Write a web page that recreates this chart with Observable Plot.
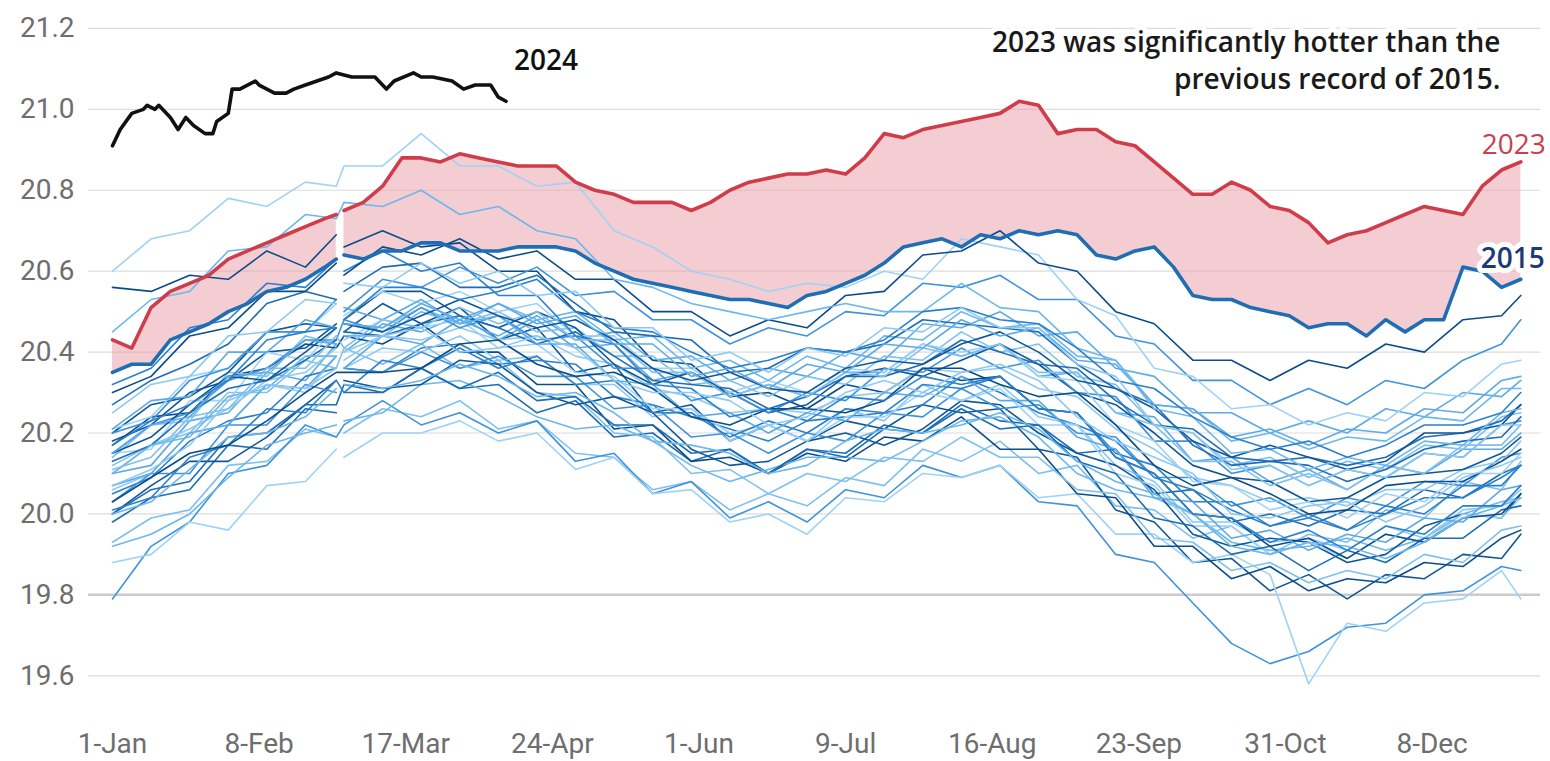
<!DOCTYPE html>
<html><head><meta charset="utf-8">
<script src="https://cdn.jsdelivr.net/npm/d3@7"></script>
<script src="https://cdn.jsdelivr.net/npm/@observablehq/plot@0.6"></script>
<style>
body{margin:0;background:#fff;}
#chart svg{display:block;}
</style></head><body><div id="chart"></div>
<script>
// ---- tick labels ----
const yTicks = [19.6, 19.8, 20.0, 20.2, 20.4, 20.6, 20.8, 21.0, 21.2];
const xTickDays = [1, 39, 77, 115, 153, 191, 229, 267, 305, 343];
const xTickLabels = ["1-Jan", "8-Feb", "17-Mar", "24-Apr", "1-Jun", "9-Jul", "16-Aug", "23-Sep", "31-Oct", "8-Dec"];

// ---- background years (day of year, leap-year calendar) ----
const bgDays = [1,11,21,31,41,51,59,61,71,81,91,101,111,121,131,141,151,161,171,181,191,201,211,221,231,241,251,261,271,281,291,301,311,321,331,341,351,361,366];
const bgYears = [1982,1983,1984,1985,1986,1987,1988,1989,1990,1991,1992,1993,1994,1995,1996,1997,1998,1999,2000,2001,2002,2003,2004,2005,2006,2007,2008,2009,2010,2011,2012,2013,2014,2016,2017,2018,2019,2020,2021,2022];
const bgValues = [
[19.93,19.99,20.01,20.12,20.13,20.21,20.19,20.20,20.26,20.24,20.28,20.21,20.23,20.15,20.14,20.06,20.08,20.01,20.05,20.02,20.09,20.07,20.16,20.13,20.18,20.10,20.12,20.02,20.01,19.94,19.97,19.90,19.95,19.93,20.01,19.99,20.08,20.06,20.13],
[20.18,20.22,20.30,20.33,20.40,20.41,20.47,20.45,20.52,20.47,20.51,20.43,20.46,20.35,20.37,20.25,20.27,20.18,20.22,20.18,20.23,20.21,20.27,20.25,20.26,20.16,20.14,20.01,19.98,19.88,19.89,19.81,19.85,19.79,19.85,19.84,19.90,19.89,19.95],
[19.79,19.92,19.98,20.10,20.12,20.22,20.19,20.22,20.28,20.22,20.25,20.20,20.23,20.13,20.15,20.05,20.08,19.99,20.03,19.98,20.06,20.04,20.12,20.09,20.12,20.03,20.02,19.90,19.88,19.78,19.68,19.63,19.66,19.72,19.73,19.80,19.81,19.87,19.86],
[19.88,19.90,19.98,19.96,20.07,20.08,20.16,20.14,20.20,20.20,20.23,20.18,20.20,20.11,20.14,20.05,20.06,19.98,20.00,19.95,20.04,20.03,20.10,20.09,20.12,20.04,20.05,19.95,19.95,19.88,19.90,19.85,19.58,19.73,19.71,19.78,19.79,19.86,19.79],
[19.98,20.04,20.06,20.17,20.16,20.26,20.25,20.30,20.30,20.36,20.31,20.32,20.25,20.28,20.19,20.20,20.13,20.16,20.10,20.16,20.15,20.22,20.20,20.27,20.23,20.22,20.15,20.16,20.05,20.06,19.98,20.00,19.97,20.01,20.00,20.06,20.04,20.10,20.12],
[20.10,20.12,20.23,20.25,20.35,20.33,20.42,20.40,20.47,20.45,20.49,20.43,20.48,20.41,20.42,20.33,20.35,20.29,20.32,20.29,20.35,20.35,20.42,20.39,20.42,20.34,20.35,20.25,20.24,20.13,20.14,20.08,20.11,20.06,20.12,20.10,20.16,20.16,20.20],
[20.17,20.24,20.25,20.34,20.36,20.42,20.41,20.44,20.42,20.47,20.40,20.40,20.32,20.32,20.21,20.22,20.13,20.14,20.10,20.15,20.13,20.19,20.18,20.24,20.16,20.16,20.05,20.04,19.92,19.92,19.84,19.87,19.81,19.84,19.83,19.88,19.87,19.94,19.96],
[19.92,19.95,20.00,20.09,20.17,20.20,20.22,20.23,20.25,20.32,20.33,20.29,20.24,20.21,20.22,20.18,20.12,20.08,20.11,20.14,20.14,20.13,20.18,20.23,20.24,20.19,20.10,20.06,20.04,20.00,19.93,19.91,19.92,19.94,19.91,19.94,20.00,20.03,20.04],
[20.05,20.09,20.18,20.23,20.25,20.34,20.36,20.36,20.35,20.41,20.42,20.37,20.38,20.37,20.29,20.27,20.24,20.21,20.18,20.23,20.24,20.25,20.27,20.34,20.30,20.25,20.22,20.18,20.09,20.06,20.01,19.97,19.99,19.96,20.00,20.04,20.04,20.09,20.12],
[20.06,20.10,20.20,20.22,20.32,20.30,20.39,20.36,20.41,20.40,20.44,20.38,20.39,20.32,20.32,20.24,20.26,20.18,20.22,20.18,20.26,20.23,20.32,20.28,20.32,20.24,20.22,20.12,20.08,19.98,19.98,19.93,19.94,19.91,19.97,19.94,20.01,20.02,20.06],
[20.12,20.17,20.20,20.30,20.30,20.38,20.36,20.41,20.37,20.42,20.36,20.38,20.30,20.29,20.20,20.19,20.10,20.11,20.05,20.10,20.08,20.14,20.13,20.19,20.14,20.14,20.06,20.05,19.94,19.93,19.86,19.88,19.83,19.86,19.84,19.90,19.88,19.96,19.97],
[20.00,20.07,20.13,20.13,20.19,20.27,20.33,20.33,20.31,20.32,20.38,20.37,20.30,20.27,20.29,20.25,20.16,20.12,20.13,20.18,20.20,20.17,20.21,20.28,20.27,20.20,20.15,20.12,20.06,19.95,19.92,19.94,19.93,19.88,19.90,19.97,20.00,19.99,20.05],
[20.03,20.10,20.10,20.22,20.22,20.32,20.30,20.36,20.35,20.40,20.36,20.39,20.34,20.34,20.26,20.27,20.19,20.20,20.15,20.20,20.18,20.25,20.24,20.31,20.26,20.27,20.20,20.19,20.09,20.09,20.02,20.04,19.99,20.04,20.02,20.08,20.07,20.14,20.15],
[20.15,20.16,20.28,20.28,20.40,20.38,20.46,20.43,20.48,20.46,20.48,20.41,20.42,20.35,20.34,20.26,20.26,20.20,20.22,20.18,20.24,20.24,20.30,20.28,20.31,20.22,20.22,20.10,20.07,19.97,19.97,19.90,19.93,19.89,19.95,19.93,20.00,19.99,20.04],
[20.00,20.06,20.08,20.19,20.20,20.27,20.27,20.32,20.30,20.36,20.31,20.35,20.28,20.29,20.22,20.22,20.15,20.16,20.10,20.16,20.14,20.21,20.20,20.26,20.21,20.22,20.13,20.10,19.99,19.97,19.90,19.92,19.86,19.91,19.88,19.94,19.94,20.01,20.02],
[20.07,20.10,20.20,20.22,20.32,20.31,20.39,20.36,20.44,20.42,20.48,20.44,20.49,20.43,20.45,20.38,20.39,20.33,20.36,20.34,20.40,20.38,20.47,20.46,20.50,20.44,20.45,20.36,20.34,20.25,20.25,20.20,20.23,20.20,20.26,20.24,20.30,20.29,20.33],
[20.56,20.55,20.59,20.58,20.65,20.61,20.69,20.66,20.70,20.66,20.67,20.60,20.60,20.50,20.48,20.38,20.37,20.29,20.30,20.26,20.32,20.30,20.36,20.33,20.34,20.26,20.25,20.14,20.10,20.00,19.99,19.92,19.94,19.89,19.95,19.93,19.99,20.00,20.05],
[20.00,20.03,20.11,20.19,20.20,20.24,20.31,20.32,20.31,20.33,20.37,20.34,20.29,20.30,20.25,20.18,20.17,20.15,20.10,20.12,20.18,20.21,20.20,20.22,20.25,20.21,20.13,20.08,20.05,20.00,19.92,19.90,19.93,19.92,19.89,19.93,19.99,20.02,20.04],
[20.01,20.04,20.14,20.17,20.26,20.25,20.33,20.30,20.38,20.36,20.41,20.36,20.39,20.32,20.33,20.25,20.25,20.19,20.23,20.20,20.26,20.25,20.32,20.31,20.34,20.26,20.25,20.15,20.12,20.03,20.03,19.97,20.00,19.96,20.02,20.00,20.07,20.07,20.12],
[20.10,20.17,20.21,20.26,20.33,20.35,20.41,20.40,20.44,20.43,20.46,20.43,20.44,20.39,20.37,20.31,20.29,20.25,20.26,20.25,20.29,20.30,20.36,20.35,20.36,20.31,20.29,20.21,20.16,20.09,20.07,20.03,20.04,20.02,20.06,20.06,20.11,20.13,20.18],
[20.14,20.22,20.23,20.35,20.34,20.44,20.42,20.47,20.46,20.51,20.47,20.50,20.45,20.46,20.39,20.39,20.32,20.33,20.29,20.34,20.32,20.39,20.38,20.45,20.40,20.42,20.34,20.32,20.22,20.20,20.12,20.14,20.09,20.13,20.11,20.17,20.16,20.24,20.25],
[20.20,20.27,20.29,20.35,20.45,20.47,20.46,20.48,20.55,20.55,20.49,20.46,20.50,20.46,20.37,20.32,20.35,20.30,20.25,20.27,20.34,20.36,20.34,20.38,20.42,20.37,20.30,20.27,20.20,20.12,20.09,20.08,20.03,20.04,20.09,20.10,20.11,20.15,20.19],
[20.15,20.22,20.25,20.33,20.36,20.43,20.43,20.48,20.45,20.51,20.46,20.49,20.43,20.44,20.36,20.36,20.28,20.30,20.25,20.30,20.28,20.36,20.35,20.41,20.36,20.38,20.30,20.29,20.18,20.18,20.10,20.12,20.07,20.11,20.09,20.15,20.14,20.22,20.23],
[20.21,20.24,20.34,20.36,20.45,20.45,20.52,20.49,20.55,20.52,20.55,20.50,20.52,20.44,20.44,20.36,20.36,20.30,20.33,20.30,20.36,20.35,20.42,20.40,20.42,20.34,20.33,20.22,20.18,20.08,20.07,20.01,20.03,19.99,20.05,20.03,20.10,20.10,20.15],
[20.13,20.17,20.25,20.31,20.33,20.38,20.43,20.45,20.44,20.47,20.49,20.46,20.42,20.45,20.39,20.33,20.32,20.31,20.26,20.29,20.34,20.34,20.37,20.43,20.40,20.37,20.36,20.28,20.22,20.21,20.14,20.13,20.14,20.12,20.14,20.19,20.20,20.23,20.27],
[20.21,20.28,20.29,20.40,20.40,20.48,20.46,20.51,20.48,20.53,20.47,20.49,20.42,20.42,20.33,20.32,20.24,20.25,20.20,20.25,20.23,20.30,20.29,20.34,20.28,20.28,20.19,20.16,20.04,20.03,19.94,19.96,19.91,19.95,19.93,19.99,19.98,20.06,20.07],
[20.03,20.09,20.15,20.17,20.23,20.30,20.35,20.35,20.35,20.36,20.42,20.43,20.37,20.34,20.35,20.31,20.24,20.22,20.26,20.26,20.25,20.28,20.36,20.36,20.32,20.29,20.30,20.22,20.12,20.07,20.09,20.05,20.00,20.01,20.07,20.08,20.08,20.13,20.16],
[20.10,20.17,20.19,20.29,20.31,20.39,20.39,20.44,20.44,20.50,20.47,20.52,20.48,20.50,20.43,20.44,20.36,20.38,20.33,20.39,20.36,20.44,20.43,20.50,20.46,20.47,20.39,20.38,20.27,20.26,20.18,20.20,20.16,20.19,20.18,20.24,20.23,20.31,20.31],
[20.32,20.36,20.46,20.48,20.57,20.56,20.63,20.60,20.65,20.60,20.62,20.54,20.54,20.44,20.42,20.32,20.31,20.24,20.26,20.23,20.29,20.28,20.34,20.32,20.34,20.26,20.25,20.14,20.10,20.00,19.99,19.93,19.96,19.91,19.97,19.95,20.02,20.02,20.07],
[20.07,20.11,20.17,20.28,20.32,20.31,20.36,20.38,20.44,20.46,20.40,20.41,20.44,20.41,20.33,20.30,20.30,20.28,20.22,20.24,20.30,20.33,20.30,20.35,20.37,20.33,20.24,20.18,20.14,20.10,20.00,19.99,20.02,20.03,19.98,20.02,20.09,20.12,20.14],
[20.11,20.14,20.24,20.26,20.36,20.36,20.44,20.41,20.48,20.46,20.51,20.47,20.50,20.43,20.43,20.35,20.35,20.29,20.32,20.29,20.35,20.34,20.41,20.39,20.42,20.35,20.35,20.25,20.22,20.13,20.13,20.07,20.10,20.06,20.12,20.10,20.17,20.17,20.22],
[20.15,20.19,20.27,20.34,20.33,20.40,20.46,20.47,20.45,20.49,20.53,20.49,20.46,20.48,20.43,20.36,20.33,20.35,20.31,20.30,20.36,20.38,20.37,20.42,20.45,20.40,20.33,20.31,20.26,20.18,20.14,20.17,20.14,20.11,20.13,20.20,20.20,20.22,20.27],
[20.20,20.23,20.33,20.36,20.45,20.45,20.53,20.50,20.58,20.56,20.61,20.57,20.61,20.54,20.55,20.48,20.48,20.42,20.46,20.44,20.50,20.49,20.57,20.56,20.59,20.53,20.53,20.44,20.42,20.33,20.33,20.27,20.31,20.27,20.33,20.31,20.38,20.42,20.48],
[20.60,20.68,20.70,20.78,20.76,20.82,20.81,20.86,20.86,20.94,20.86,20.86,20.81,20.82,20.70,20.66,20.60,20.58,20.55,20.57,20.56,20.60,20.58,20.68,20.66,20.64,20.53,20.49,20.36,20.34,20.26,20.27,20.22,20.25,20.23,20.30,20.29,20.37,20.38],
[20.27,20.33,20.37,20.42,20.52,20.55,20.53,20.55,20.61,20.62,20.56,20.56,20.59,20.52,20.45,20.44,20.43,20.35,20.36,20.41,20.40,20.42,20.48,20.47,20.46,20.45,20.37,20.31,20.27,20.17,20.12,20.13,20.12,20.08,20.11,20.16,20.18,20.19,20.24],
[20.15,20.22,20.24,20.34,20.35,20.43,20.42,20.47,20.46,20.52,20.48,20.52,20.47,20.49,20.42,20.42,20.34,20.36,20.31,20.37,20.35,20.42,20.41,20.48,20.44,20.46,20.38,20.37,20.27,20.26,20.19,20.21,20.17,20.21,20.20,20.26,20.25,20.33,20.34],
[20.30,20.34,20.44,20.46,20.55,20.55,20.62,20.59,20.66,20.64,20.68,20.63,20.65,20.58,20.58,20.50,20.50,20.44,20.48,20.46,20.54,20.55,20.64,20.65,20.70,20.62,20.60,20.50,20.47,20.38,20.38,20.33,20.38,20.36,20.42,20.40,20.48,20.49,20.54],
[20.45,20.53,20.55,20.65,20.66,20.74,20.73,20.77,20.76,20.80,20.74,20.76,20.70,20.68,20.58,20.56,20.52,20.50,20.48,20.50,20.52,20.50,20.50,20.57,20.51,20.50,20.41,20.38,20.26,20.24,20.15,20.16,20.11,20.14,20.12,20.18,20.17,20.25,20.26],
[20.17,20.23,20.27,20.33,20.43,20.45,20.46,20.48,20.56,20.56,20.53,20.55,20.58,20.50,20.46,20.45,20.40,20.36,20.38,20.41,20.40,20.43,20.50,20.51,20.48,20.47,20.41,20.33,20.31,20.24,20.19,20.16,20.18,20.14,20.17,20.22,20.22,20.25,20.30],
[20.25,20.32,20.34,20.44,20.45,20.53,20.52,20.57,20.56,20.62,20.57,20.60,20.54,20.55,20.46,20.46,20.38,20.40,20.35,20.41,20.39,20.46,20.45,20.51,20.46,20.46,20.37,20.34,20.22,20.20,20.11,20.12,20.07,20.11,20.09,20.15,20.14,20.22,20.22]
];

// ---- highlighted years ----
const hlDays = [1,6,11,16,21,26,31,36,41,46,51,56,59,61,66,71,76,81,86,91,96,101,106,111,116,121,126,131,136,141,146,151,156,161,166,171,176,181,186,191,196,201,206,211,216,221,226,231,236,241,246,251,256,261,266,271,276,281,286,291,296,301,306,311,316,321,326,331,336,341,346,351,356,361,366];
const temps2015 = [20.35,20.37,20.37,20.43,20.45,20.47,20.50,20.52,20.55,20.56,20.58,20.61,20.63,
  20.64,20.63,20.65,20.65,20.67,20.67,20.65,20.65,20.65,20.66,
  20.66,20.66,20.65,20.62,20.60,20.58,20.57,20.56,20.55,20.54,
  20.53,20.53,20.52,20.51,20.54,20.55,20.57,20.59,20.62,20.66,
  20.67,20.68,20.66,20.69,20.68,20.70,20.69,20.70,20.69,20.64,
  20.63,20.65,20.66,20.61,20.54,20.53,20.53,20.51,20.50,20.49,
  20.46,20.47,20.47,20.44,20.48,20.45,20.48,20.48,20.61,20.60,
  20.56,20.58];
const temps2023 = [20.43,20.41,20.51,20.55,20.57,20.59,20.63,20.65,20.67,20.69,20.71,20.73,20.74,
  20.75,20.77,20.81,20.88,20.88,20.87,20.89,20.88,20.87,20.86,
  20.86,20.86,20.82,20.80,20.79,20.77,20.77,20.77,20.75,20.77,
  20.80,20.82,20.83,20.84,20.84,20.85,20.84,20.88,20.94,20.93,
  20.95,20.96,20.97,20.98,20.99,21.02,21.01,20.94,20.95,20.95,
  20.92,20.91,20.87,20.83,20.79,20.79,20.82,20.80,20.76,20.75,
  20.72,20.67,20.69,20.70,20.72,20.74,20.76,20.75,20.74,20.81,
  20.85,20.87];
const days2024 = [1,3,6,9,10,12,13,16,18,20,22,25,27,28,31,32,34,38,39,43,46,48,51,54,57,59,63,66,69,72,74,79,81,84,89,92,95,99,101,103];
const temps2024 = [20.91,20.95,20.99,21.00,21.01,21.00,21.01,20.98,20.95,20.98,20.96,20.94,20.94,20.97,20.99,21.05,21.05,21.07,21.06,21.04,21.04,21.05,21.06,21.07,21.08,21.09,21.08,21.08,21.08,21.05,21.07,21.09,21.08,21.08,21.07,21.05,21.06,21.06,21.03,21.02];

const annotation = "2023 was significantly hotter than the\nprevious record of 2015.";

// ---- build tables ----
const bgRows = bgYears.flatMap((yr, i) => bgDays.map((d, j) => ({
  year: yr, day: d, temp: bgValues[i][j],
  seg: (yr % 4 !== 0 && d > 60) ? yr + "b" : yr + "a"
})));
const hlRows = hlDays.map((d, i) => ({day: d, t2015: temps2015[i], t2023: temps2023[i], seg: d > 60 ? "b" : "a"}));
const rows2024 = days2024.map((d, i) => ({day: d, temp: temps2024[i]}));
const last = a => [a[a.length - 1]];

const palette = ["#7fc0ee","#0f5798","#3f93dc","#9fd2f6","#1d6db6","#5caae8","#0b4c8a","#6cb7ec","#2a80cc","#8ec9f2"];

const chart = Plot.plot({
  width: 1550, height: 761,
  marginLeft: 88, marginRight: 10, marginTop: 0, marginBottom: 40,
  style: {fontFamily: "Roboto, sans-serif", fontSize: "28px", color: "#6e6e6e", background: "#fff", overflow: "visible"},
  x: {domain: [-5.22, 371.1], label: null},
  y: {domain: [19.487, 21.269], label: null},
  color: {type: "ordinal", domain: bgYears, range: palette},
  marks: [
    Plot.ruleY(yTicks.filter(v => v !== 19.8), {stroke: "#dcdcdc", strokeWidth: 1.2}),
    Plot.ruleY([19.8], {stroke: "#cbcbcb", strokeWidth: 2.5}),
    Plot.areaY(hlRows, {x: "day", y1: "t2015", y2: "t2023", z: "seg", fill: "#e8a0a6", fillOpacity: 0.52}),
    Plot.line(bgRows, {x: "day", y: "temp", z: "seg", stroke: "year", strokeWidth: 1.6}),
    Plot.line(hlRows, {x: "day", y: "t2015", z: "seg", stroke: "#1f6db3", strokeWidth: 3.6}),
    Plot.line(hlRows, {x: "day", y: "t2023", z: "seg", stroke: "#cf3d4b", strokeWidth: 3.6}),
    Plot.line(rows2024, {x: "day", y: "temp", stroke: "#111", strokeWidth: 3.6}),
    Plot.axisY(yTicks, {tickSize: 0, tickPadding: 14, label: null, tickFormat: d => d.toFixed(1)}),
    Plot.axisX(xTickDays, {tickSize: 0, tickPadding: 12, label: null, tickFormat: d => xTickLabels[xTickDays.indexOf(d)]}),
    Plot.text(last(rows2024), {x: "day", y: "temp", text: () => "2024", textAnchor: "start", dx: 8, dy: -40,
      fontSize: 28, fontWeight: 600, fontFamily: "Open Sans, sans-serif", fill: "#111"}),
    Plot.text(last(hlRows), {x: "day", y: "t2023", text: () => "2023", textAnchor: "middle", dx: -7, dy: -17,
      fontSize: 28, fontWeight: 500, fontFamily: "Open Sans, sans-serif", fill: "#c94150"}),
    Plot.text(last(hlRows), {x: "day", y: "t2015", text: () => "2015", textAnchor: "middle", dx: -8, dy: -20,
      fontSize: 28, fontWeight: 600, fontFamily: "Open Sans, sans-serif", fill: "#1b3a78", stroke: "#fff", strokeWidth: 10}),
    Plot.text([annotation], {text: d => d, frameAnchor: "top-right", textAnchor: "end", lineAnchor: "top",
      dx: -40, dy: 25, lineHeight: 1.33, fontSize: 28, fontWeight: 600, fontFamily: "Open Sans, sans-serif",
      fill: "#1a1a1a", stroke: "#fff", strokeWidth: 10})
  ]
});
document.getElementById("chart").appendChild(chart);
</script>
</body></html>
